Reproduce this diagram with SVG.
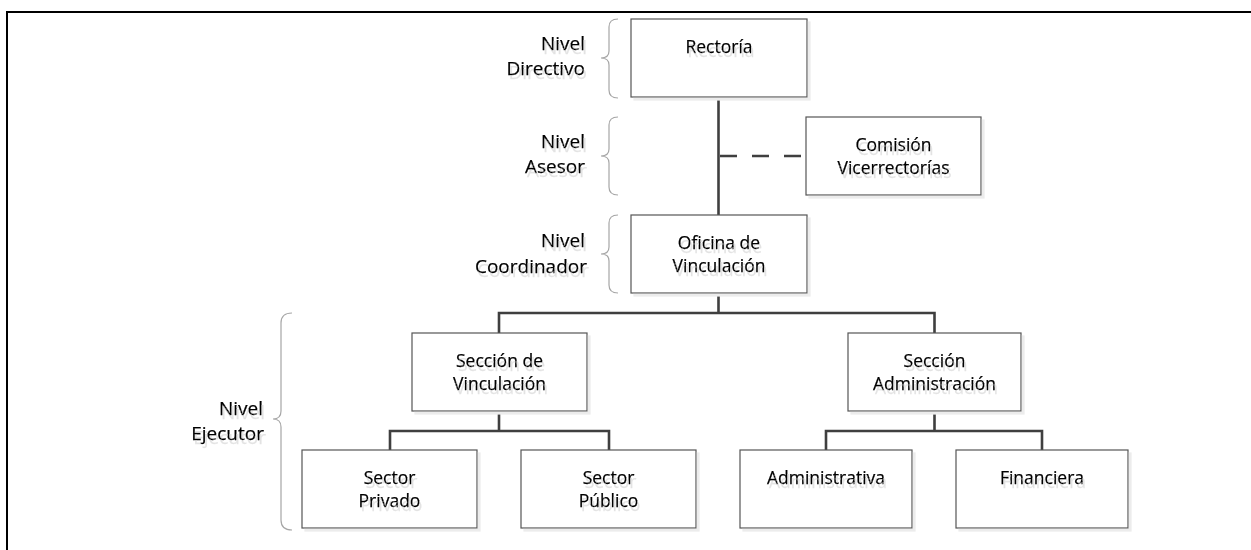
<svg xmlns="http://www.w3.org/2000/svg" width="1251" height="550" viewBox="0 0 1251 550">
  <defs>
    <filter id="sh" x="-10%" y="-20%" width="130%" height="160%">
      <feOffset in="SourceAlpha" dx="2" dy="4" result="o"/>
      <feFlood flood-color="#e3e3e3"/>
      <feComposite in2="o" operator="in" result="s"/>
      <feMerge><feMergeNode in="s"/><feMergeNode in="SourceGraphic"/></feMerge>
    </filter>
    <filter id="bsh" x="-5%" y="-5%" width="115%" height="115%">
      <feOffset in="SourceAlpha" dx="3" dy="3" result="o"/>
      <feFlood flood-color="#ececec"/>
      <feComposite in2="o" operator="in" result="s"/>
      <feMerge><feMergeNode in="s"/><feMergeNode in="SourceGraphic"/></feMerge>
    </filter>
  </defs>
  <style>
    .box { fill: #ffffff; stroke: #555555; stroke-width: 1.2; filter: url(#bsh); }
    .t { font-family: "Open Sans", "Noto Sans", sans-serif; font-size: 17.5px; fill: #000000; stroke: #000000; stroke-width: 0.25; text-anchor: middle; filter: url(#sh); }
    .lbl { font-family: "Open Sans", "Noto Sans", sans-serif; font-size: 19px; fill: #000000; stroke: #000000; stroke-width: 0.25; text-anchor: end; filter: url(#sh); }
    .brace { fill: none; stroke: #a6a6a6; stroke-width: 1.2; }
    .con { fill: none; stroke: #3f3f3f; stroke-width: 2.6; }
    .dash { fill: none; stroke: #3f3f3f; stroke-width: 2.6; stroke-dasharray: 17 15; }
    .frame { fill: none; stroke: #000000; stroke-width: 2; }
  </style>
  <rect x="0" y="0" width="1251" height="550" fill="#ffffff"/>
  <path class="frame" d="M7,550 L7,12 L1251,12"/>

  <g id="levels">
    <g id="nivel-directivo">
      <path class="brace" d="M618,19 Q609,19 609,27 L609,51 Q609,58 601,58 Q609,58 609,65 L609,90 Q609,98 618,98"/>
      <text class="lbl" x="585" y="49.5">Nivel</text>
      <text class="lbl" x="585" y="75">Directivo</text>
    </g>
    <g id="nivel-asesor">
      <path class="brace" d="M618,117 Q609,117 609,125 L609,149 Q609,156 601,156 Q609,156 609,163 L609,187 Q609,195 618,195"/>
      <text class="lbl" x="585" y="147.5">Nivel</text>
      <text class="lbl" x="585" y="173">Asesor</text>
    </g>
    <g id="nivel-coordinador">
      <path class="brace" d="M618,215 Q609,215 609,223 L609,247 Q609,254 601,254 Q609,254 609,261 L609,285 Q609,293 618,293"/>
      <text class="lbl" x="585" y="246.5">Nivel</text>
      <text class="lbl" x="587" y="272.5">Coordinador</text>
    </g>
    <g id="nivel-ejecutor">
      <path class="brace" d="M292,313 Q281,313 281,323 L281,411 Q281,419 273,419 Q281,419 281,427 L281,520 Q281,530 292,530"/>
      <text class="lbl" x="263" y="415">Nivel</text>
      <text class="lbl" x="264" y="440">Ejecutor</text>
    </g>
  </g>

  <g id="connectors">
    <path class="con" d="M718.5,97 L718.5,215"/>
    <path class="dash" d="M720,156 L806,156"/>
    <path class="con" d="M718.5,293 L718.5,313 M499,333 L499,313 L934.5,313 L934.5,333"/>
    <path class="con" d="M499,411 L499,431 M390,450 L390,431 L609,431 L609,450"/>
    <path class="con" d="M934.5,411 L934.5,431 M826,450 L826,431 L1042,431 L1042,450"/>
  </g>

  <g id="rectoria">
    <rect class="box" x="631" y="19" width="176" height="78"/>
    <text class="t" x="719" y="52.5">Rectoría</text>
  </g>
  <g id="comision">
    <rect class="box" x="806" y="117" width="175" height="78"/>
    <text class="t" x="893.5" y="150.5">Comisión</text>
    <text class="t" x="893.5" y="174">Vicerrectorías</text>
  </g>
  <g id="oficina">
    <rect class="box" x="631" y="215" width="176" height="78"/>
    <text class="t" x="719" y="248.5">Oficina de</text>
    <text class="t" x="719" y="272">Vinculación</text>
  </g>
  <g id="seccion-vinculacion">
    <rect class="box" x="412" y="333" width="175" height="78"/>
    <text class="t" x="499.5" y="366.5">Sección de</text>
    <text class="t" x="499.5" y="390">Vinculación</text>
  </g>
  <g id="seccion-administracion">
    <rect class="box" x="848" y="333" width="173" height="78"/>
    <text class="t" x="934.5" y="366.5">Sección</text>
    <text class="t" x="934.5" y="390">Administración</text>
  </g>
  <g id="sector-privado">
    <rect class="box" x="302" y="450" width="175" height="78"/>
    <text class="t" x="389.5" y="483.5">Sector</text>
    <text class="t" x="389.5" y="507">Privado</text>
  </g>
  <g id="sector-publico">
    <rect class="box" x="521" y="450" width="175" height="78"/>
    <text class="t" x="608.5" y="483.5">Sector</text>
    <text class="t" x="608.5" y="507">Público</text>
  </g>
  <g id="administrativa">
    <rect class="box" x="740" y="450" width="172" height="78"/>
    <text class="t" x="826" y="483.5">Administrativa</text>
  </g>
  <g id="financiera">
    <rect class="box" x="956" y="450" width="172" height="78"/>
    <text class="t" x="1042" y="483.5">Financiera</text>
  </g>
</svg>
